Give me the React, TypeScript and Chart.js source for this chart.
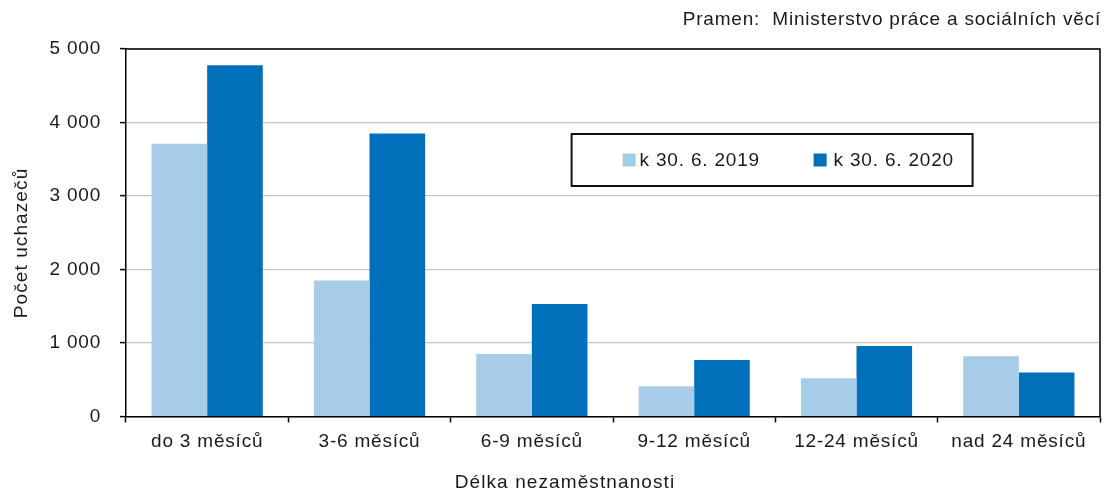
import React, { useEffect, useRef } from "react";
import { Chart, registerables } from "chart.js";

Chart.register(...registerables);

const categories = ["do 3 měsíců", "3-6 měsíců", "6-9 měsíců", "9-12 měsíců", "12-24 měsíců", "nad 24 měsíců"];
const series2019 = [3710, 1850, 850, 410, 520, 820];
const series2020 = [4780, 3850, 1530, 770, 960, 600];
const seriesLabels = ["k 30. 6. 2019", "k 30. 6. 2020"];
const yTicks = [0, 1000, 2000, 3000, 4000, 5000];
const sourceText = "Pramen:  Ministerstvo práce a sociálních věcí";
const yTitle = "Počet uchazečů";
const xTitle = "Délka nezaměstnanosti";

const LIGHT = "#a7cce7";
const DARK = "#0070bb";
const FONT = "'Liberation Sans', Arial, sans-serif";
const TEXT = "#1a1a1a";
const SPACING = "0.8px";

function fmt(v: number) {
  const s = String(Math.round(v));
  return s.replace(/\B(?=(\d{3})+(?!\d))/g, " ");
}

const spacingPlugin = {
  id: "spacing",
  beforeUpdate(chart: any) {
    chart.ctx.letterSpacing = SPACING;
  },
  beforeDraw(chart: any) {
    chart.ctx.letterSpacing = SPACING;
  },
};

const framePlugin = {
  id: "frame",
  afterDraw(chart: any) {
    const { ctx, chartArea } = chart;
    const { left, right, top, bottom } = chartArea;
    ctx.save();
    ctx.letterSpacing = SPACING;
    ctx.strokeStyle = "#000";
    ctx.lineWidth = 1.5;
    ctx.beginPath();
    ctx.moveTo(left, top);
    ctx.lineTo(right, top);
    ctx.lineTo(right, bottom);
    ctx.stroke();

    // source text
    ctx.fillStyle = TEXT;
    ctx.font = `19px ${FONT}`;
    ctx.textAlign = "right";
    ctx.textBaseline = "middle";
    ctx.fillText(sourceText, right + 1, 20);

    // axis titles
    ctx.font = `19px ${FONT}`;
    ctx.letterSpacing = "1.1px";
    ctx.textAlign = "center";
    ctx.textBaseline = "middle";
    ctx.fillText(xTitle, 565, 483);
    ctx.save();
    ctx.translate(22, 243);
    ctx.rotate(-Math.PI / 2);
    ctx.fillText(yTitle, 0, 0);
    ctx.restore();
    ctx.letterSpacing = SPACING;

    // legend box
    const w = right - left;
    const bx = left + w * 0.4575;
    const bw = w * 0.4117;
    const by = top + 85;
    const bh = 52;
    ctx.lineWidth = 2;
    ctx.strokeStyle = "#111";
    ctx.fillStyle = "#fff";
    ctx.fillRect(bx, by, bw, bh);
    ctx.strokeRect(bx, by, bw, bh);
    const ds = chart.data.datasets;
    const items = [
      { x: bx + 51, tx: bx + 68, color: ds[0].backgroundColor, label: ds[0].label },
      { x: bx + 242, tx: bx + 262, color: ds[1].backgroundColor, label: ds[1].label },
    ];
    ctx.font = `19px ${FONT}`;
    ctx.textAlign = "left";
    ctx.textBaseline = "middle";
    const cy = by + bh / 2;
    for (const it of items) {
      ctx.fillStyle = it.color;
      ctx.fillRect(it.x, cy - 6.5, 13, 13);
      ctx.fillStyle = TEXT;
      ctx.fillText(it.label, it.tx, cy + 1);
    }
    ctx.restore();
  },
};

export default function App() {
  const ref = useRef<HTMLCanvasElement | null>(null);
  useEffect(() => {
    if (!ref.current) return;
    const chart = new Chart(ref.current, {
      type: "bar",
      data: {
        labels: categories,
        datasets: [
          {
            label: seriesLabels[0],
            data: series2019,
            backgroundColor: LIGHT,
            borderWidth: 0,
          },
          {
            label: seriesLabels[1],
            data: series2020,
            backgroundColor: DARK,
            borderWidth: 0,
          },
        ],
      },
      options: {
        animation: false,
        responsive: false,
        maintainAspectRatio: false,
        layout: { padding: { top: 49, right: 8, bottom: 0, left: 0 } },
        plugins: {
          legend: { display: false },
          tooltip: { enabled: false },
        },
        datasets: {
          bar: { categoryPercentage: 0.685, barPercentage: 1 },
        },
        scales: {
          x: {
            offset: true,
            grid: {
              display: true,
              offset: true,
              drawOnChartArea: false,
              drawTicks: true,
              tickLength: 6,
              tickColor: "#000",
              tickWidth: 1.5,
            },
            border: { display: true, color: "#000", width: 1.5 },
            ticks: {
              autoSkip: false,
              maxRotation: 0,
              minRotation: 0,
              padding: 8,
              color: TEXT,
              font: { family: FONT, size: 19 },
            },
            title: { display: false, text: xTitle },
            afterFit(scale: any) {
              scale.height = 74.5;
            },
          },
          y: {
            min: 0,
            max: 5000,
            afterBuildTicks(scale: any) {
              scale.ticks = yTicks.map((v) => ({ value: v }));
            },
            grid: {
              color: "#c4c4c4",
              lineWidth: 1.2,
              drawTicks: true,
              tickLength: 6,
              tickColor: "#000",
              tickWidth: 1.5,
            },
            border: { display: true, color: "#000", width: 1.5 },
            ticks: {
              padding: 19,
              color: TEXT,
              font: { family: FONT, size: 19 },
              callback: (v: any) => fmt(Number(v)),
            },
            title: { display: false, text: yTitle },
            afterFit(scale: any) {
              scale.width = 126;
            },
          },
        },
      },
      plugins: [spacingPlugin, framePlugin],
    });
    return () => chart.destroy();
  }, []);
  return (
    <div style={{ position: "absolute", left: 0, top: 0, width: 1108, height: 491, background: "#fff" }}>
      <canvas ref={ref} width={1108} height={491} style={{ width: 1108, height: 491, display: "block" }} />
    </div>
  );
}
